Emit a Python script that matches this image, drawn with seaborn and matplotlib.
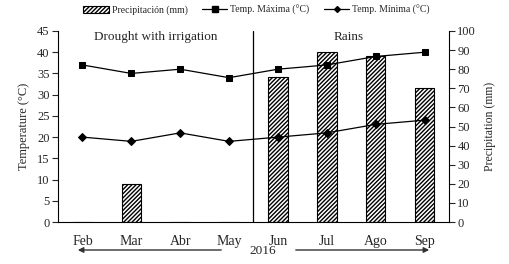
import numpy as np
import matplotlib
matplotlib.use('Agg')
import matplotlib.pyplot as plt
import seaborn as sns
from matplotlib.patches import Patch, FancyArrowPatch
from matplotlib.lines import Line2D

# data
months = ['Feb', 'Mar', 'Abr', 'May', 'Jun', 'Jul', 'Ago', 'Sep']
precip = [0, 20, 0, 0, 76, 89, 87, 70]
temp_max = [37, 35, 36, 34, 36, 37, 39, 40]
temp_min = [20, 19, 21, 19, 20, 21, 23, 24]

sns.set_style('ticks')
plt.rcParams['font.family'] = ['Liberation Serif', 'DejaVu Serif']
plt.rcParams['hatch.linewidth'] = 1.0

fig = plt.figure(figsize=(5.1, 2.64), dpi=100)
ax = fig.add_axes([0.1137, 0.159, 0.7667, 0.7236])
ax_p = ax.twinx()

x = np.arange(len(months))

# precipitation bars on the right axis
sns.barplot(x=x, y=precip, ax=ax_p, color='white', edgecolor='black',
            linewidth=0.8, width=0.4, hatch='////////', native_scale=True)

# temperature lines on the left axis
sns.lineplot(x=x, y=temp_max, ax=ax, color='black', marker='s',
             markersize=5, linewidth=0.9, markeredgecolor='black')
sns.lineplot(x=x, y=temp_min, ax=ax, color='black', marker='D',
             markersize=4, linewidth=0.9, markeredgecolor='black')

ax.set_zorder(ax_p.get_zorder() + 1)
ax.patch.set_visible(False)

ax.set_xlim(-0.5, 7.5)
ax.set_ylim(0, 45)
ax.set_yticks(range(0, 46, 5))
ax_p.set_ylim(0, 100)
ax_p.set_yticks(range(0, 101, 10))

ax.set_xticks(np.arange(-0.5, 8, 1))
ax.set_xticklabels([])
ax.set_xticks(x, minor=True)
ax.set_xticklabels(months, minor=True)
ax.tick_params(axis='x', which='minor', length=0, pad=9)
ax.tick_params(axis='x', which='major', length=4, width=0.8, direction='out')
ax.tick_params(axis='y', length=4, width=0.8, pad=2)
ax_p.tick_params(axis='y', length=4, width=0.8, pad=2)
ax.tick_params(labelsize=9)
ax_p.tick_params(labelsize=9)
ax_p.set_xticks([])

for a in (ax, ax_p):
    a.spines['top'].set_visible(False)
    for s in a.spines.values():
        s.set_linewidth(0.8)
        s.set_color('black')
ax.spines['right'].set_visible(False)
ax_p.spines['left'].set_visible(False)
ax_p.spines['bottom'].set_visible(False)

ax.set_ylabel('Temperature (°C)', fontsize=9, labelpad=5)
ax_p.set_ylabel('Precipitation (mm)', fontsize=8.5, labelpad=6)
ax.set_xlabel('')

# season divider
ax.axvline(3.5, color='black', linewidth=0.9)
ax.text(1.5, 43.5, 'Drought with irrigation', ha='center', va='center', fontsize=9.5)
ax.text(5.45, 43.5, 'Rains', ha='center', va='center', fontsize=9.5)

# year with arrows
fig.text(263 / 510, 1 - 251 / 264, '2016', ha='center', va='center', fontsize=9.5)
arrow_kw = dict(arrowstyle='-|>', color='#333333', lw=1.0, mutation_scale=8)
fig.add_artist(FancyArrowPatch(
    (224 / 510, 1 - 250 / 264), (75 / 510, 1 - 250 / 264),
    transform=fig.transFigure, **arrow_kw))
fig.add_artist(FancyArrowPatch(
    (293 / 510, 1 - 250 / 264), (432 / 510, 1 - 250 / 264),
    transform=fig.transFigure, **arrow_kw))

# legend
handles = [
    Patch(facecolor='white', edgecolor='black', hatch='////////', linewidth=0.8),
    Line2D([], [], color='black', marker='s', markersize=5, linewidth=0.9),
    Line2D([], [], color='black', marker='D', markersize=3, linewidth=0.9),
]
labels = ['Precipitación (mm)', 'Temp. Máxima (°C)', 'Temp. Mínima (°C)']
fig.legend(handles, labels, loc='center', bbox_to_anchor=(0.503, 1 - 10 / 264),
           ncol=3, frameon=False, fontsize=7, handlelength=2.6,
           handleheight=0.7, columnspacing=1.5, handletextpad=0.3)

fig.savefig('out.png', dpi=100)
plt.close(fig)
